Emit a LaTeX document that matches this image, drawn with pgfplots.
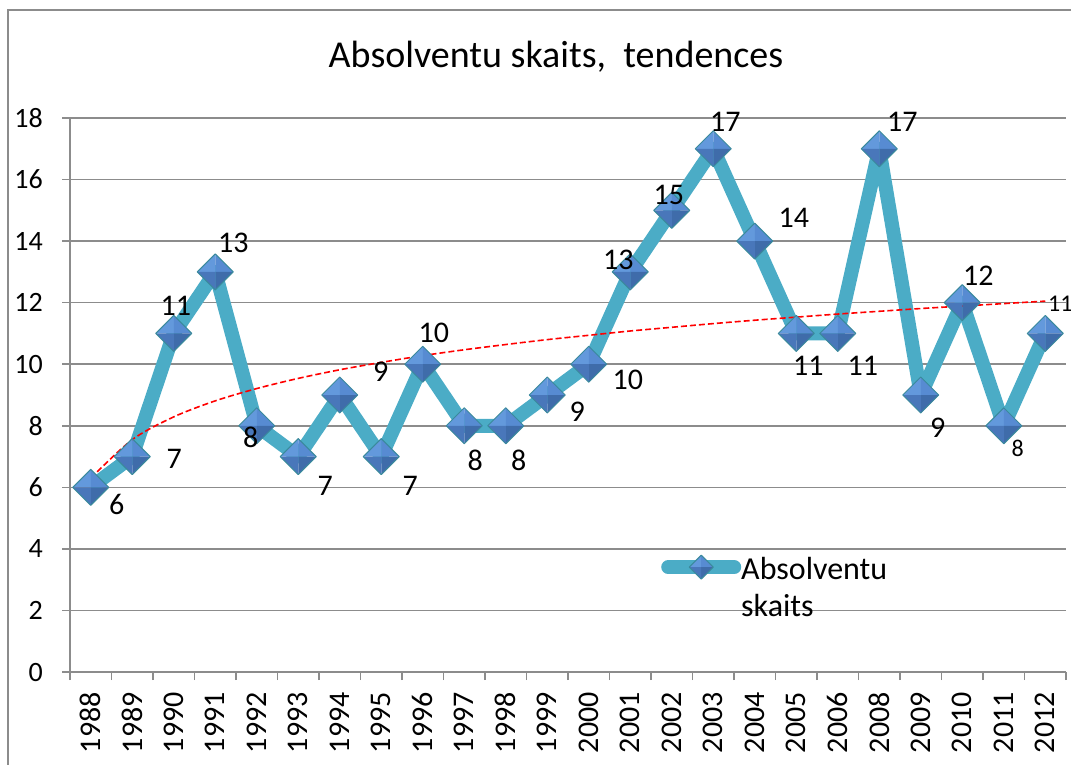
\documentclass[border=0pt]{standalone}
\usepackage{pgfplots}
\pgfplotsset{compat=1.18}
\usepackage{fontspec}
\setmainfont{Carlito}
\definecolor{lineteal}{HTML}{4BACC6}
\definecolor{gridgray}{HTML}{8C8C8C}
\definecolor{mkUL}{HTML}{6399DC}
\definecolor{mkUR}{HTML}{578BD2}
\definecolor{mkLR}{HTML}{3F6CAA}
\definecolor{mkLL}{HTML}{4977BA}
\definecolor{mkEdge}{HTML}{3A8A9C}

% pyramid-like diamond marker
\pgfdeclareplotmark{pyr}{%
  \pgfpathmoveto{\pgfpointorigin}\pgfpathlineto{\pgfqpoint{-\pgfplotmarksize}{0pt}}%
  \pgfpathlineto{\pgfqpoint{0pt}{\pgfplotmarksize}}\pgfpathclose
  \pgfsetfillcolor{mkUL}\pgfusepathqfill
  \pgfpathmoveto{\pgfpointorigin}\pgfpathlineto{\pgfqpoint{0pt}{\pgfplotmarksize}}%
  \pgfpathlineto{\pgfqpoint{\pgfplotmarksize}{0pt}}\pgfpathclose
  \pgfsetfillcolor{mkUR}\pgfusepathqfill
  \pgfpathmoveto{\pgfpointorigin}\pgfpathlineto{\pgfqpoint{\pgfplotmarksize}{0pt}}%
  \pgfpathlineto{\pgfqpoint{0pt}{-\pgfplotmarksize}}\pgfpathclose
  \pgfsetfillcolor{mkLR}\pgfusepathqfill
  \pgfpathmoveto{\pgfpointorigin}\pgfpathlineto{\pgfqpoint{0pt}{-\pgfplotmarksize}}%
  \pgfpathlineto{\pgfqpoint{-\pgfplotmarksize}{0pt}}\pgfpathclose
  \pgfsetfillcolor{mkLL}\pgfusepathqfill
  \pgfsetlinewidth{1pt}\pgfsetstrokecolor{mkEdge}%
  \pgfpathmoveto{\pgfqpoint{0pt}{\pgfplotmarksize}}%
  \pgfpathlineto{\pgfqpoint{\pgfplotmarksize}{0pt}}%
  \pgfpathlineto{\pgfqpoint{0pt}{-\pgfplotmarksize}}%
  \pgfpathlineto{\pgfqpoint{-\pgfplotmarksize}{0pt}}\pgfpathclose
  \pgfusepathqstroke
}

% label positions: value, label, offset from point (dx right, dy up)
\pgfplotstableread{
x  y  lab dx  dy
0  6  6   26  -17
1  7  7   42  -2
2  11 11  2   28
3  13 13  18  29
4  8  8   -6  -12
5  7  7   27  -29
6  9  9   41  23
7  7  7   29  -29
8  10 10  11  31
9  8  8   11  -35
10 8  8   13  -35
11 9  9   30  -17
12 10 10  39  -16
13 13 13  -12 12
14 15 15  -3  15
15 17 17  12  27
16 14 14  39  23
17 11 11  12  -32
18 11 11  25  -32
19 17 17  23  27
20 9  9   17  -33
21 12 12  16  27
}\labA
\pgfplotstableread{
x  y  lab dx  dy
22 8  8   14  -23
23 11 11  15  30
}\labB

\begin{document}
\begin{tikzpicture}
\useasboundingbox (0,0) rectangle (1071pt,-764pt);
\begin{scope}
\clip (0,0) rectangle (1071pt,-764pt);
\draw[gridgray, line width=1.5pt] (8pt,-10pt) rectangle (1100pt,-800pt);
\node[font=\fontsize{38}{40}\selectfont, anchor=base] at (556pt,-67pt) {Absolventu skaits, \ tendences};

\begin{axis}[
  clip=false,
  at={(70pt,-672pt)}, anchor=south west, scale only axis,
  width=996pt, height=554pt,
  xmin=-0.5, xmax=23.5, ymin=0, ymax=18,
  axis lines*=left, axis line style={draw=gridgray, line width=1.5pt, -},
  ytick={0,2,...,18}, yticklabels={0,2,4,6,8,10,12,14,16,18},
  xtick={-0.5,0.5,...,23.5}, xticklabels={},
  extra x ticks={0,...,23},
  extra x tick labels={1988,1989,1990,1991,1992,1993,1994,1995,1996,1997,1998,1999,2000,2001,2002,2003,2004,2005,2006,2008,2009,2010,2011,2012},
  extra x tick style={major tick length=0pt},
  tick align=outside, major tick length=8pt,
  tick style={draw=gridgray, line width=1.5pt},
  ymajorgrids, major grid style={draw=gridgray, line width=1.5pt},
  yticklabel style={font=\fontsize{28}{30}\selectfont, inner sep=0pt, xshift=-19pt},
  xticklabel style={font=\fontsize{30}{32}\selectfont, inner sep=0pt, yshift=-20pt, rotate=90, anchor=east},
  legend style={at={(0.5934,0.218)}, anchor=north west, draw=none, fill=none,
    font=\fontsize{32}{37}\selectfont, inner sep=0pt, nodes={inner xsep=0pt}},
  legend cell align=left,
  legend image code/.code={\draw[#1, mark size=12pt, line cap=round, mark repeat=2, mark phase=2]
    plot coordinates {(0pt,0pt) (33pt,0pt) (66pt,0pt)};},
  lbl/.style={draw=none, forget plot, nodes near coords, point meta=explicit symbolic,
    visualization depends on={\thisrow{dx} \as \dx},
    visualization depends on={\thisrow{dy} \as \dy},
    every node near coord/.style={font=#1, anchor=center, inner sep=0pt,
      xshift=\dx pt, yshift=\dy pt}},
]
\addplot[lineteal, line width=14pt, line join=round, mark=pyr, mark size=18pt]
  coordinates {
  (0,6) (1,7) (2,11) (3,13) (4,8) (5,7) (6,9) (7,7) (8,10) (9,8) (10,8) (11,9)
  (12,10) (13,13) (14,15) (15,17) (16,14) (17,11) (18,11) (19,17) (20,9) (21,12) (22,8) (23,11)};
\addlegendentry{\begin{tabular}[t]{@{}l@{}}Absolventu\\skaits\end{tabular}}
% logarithmic trend line
\addplot[red, line width=1.6pt, dash pattern=on 6pt off 3pt, smooth, forget plot]
  coordinates {
  (0,6.30) (1,7.55) (2,8.29) (3,8.81) (4,9.21) (5,9.54) (6,9.82) (7,10.06)
  (8,10.28) (9,10.47) (10,10.64) (11,10.80) (12,10.94) (13,11.08) (14,11.20) (15,11.32)
  (16,11.43) (17,11.53) (18,11.63) (19,11.72) (20,11.81) (21,11.89) (22,11.97) (23,12.05)};
% data labels
\addplot[lbl={\fontsize{30}{32}\selectfont}] table[x=x, y=y, meta=lab] {\labA};
\addplot[lbl={\fontsize{24}{26}\selectfont}] table[x=x, y=y, meta=lab] {\labB};
\end{axis}
\end{scope}
\end{tikzpicture}
\end{document}
